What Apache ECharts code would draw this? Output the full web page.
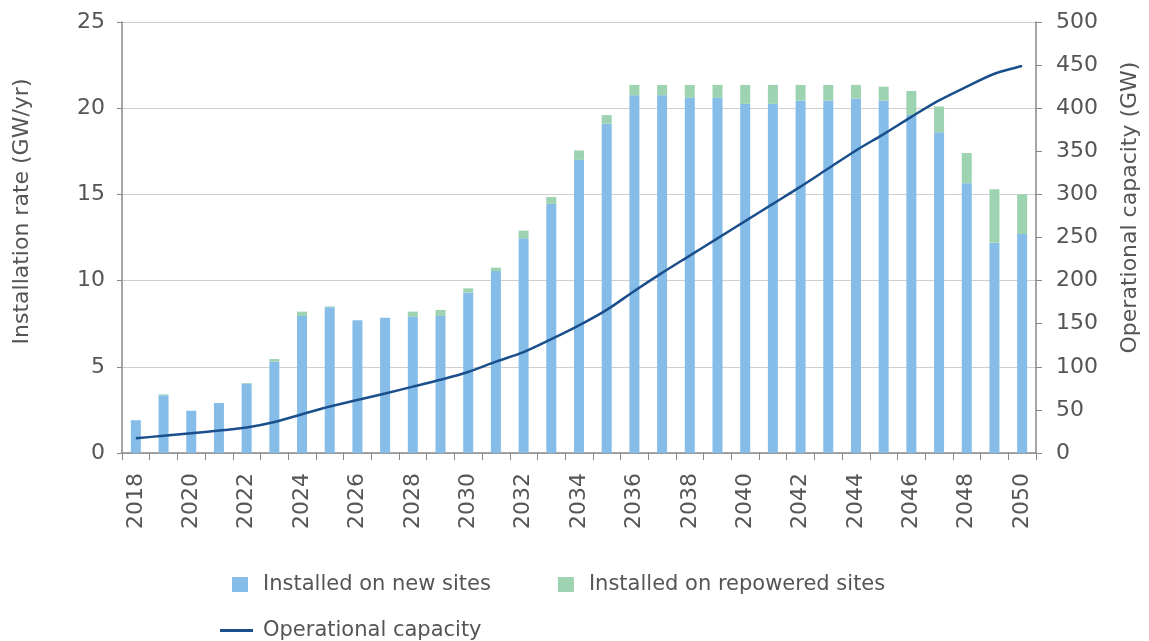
<!DOCTYPE html>
<html>
<head>
<meta charset="utf-8">
<script src="https://cdn.jsdelivr.net/npm/echarts@6/dist/echarts.min.js"></script>
<style>
html,body{margin:0;padding:0;background:#fff;}
#chart{width:1149px;height:641px;}
</style>
</head>
<body>
<div id="chart"></div>
<script>
const years = ['2018','2019','2020','2021','2022','2023','2024','2025','2026','2027','2028','2029','2030','2031','2032','2033','2034','2035','2036','2037','2038','2039','2040','2041','2042','2043','2044','2045','2046','2047','2048','2049','2050'];
const newSites = [1.9,3.35,2.45,2.9,4.0,5.3,7.95,8.45,7.7,7.85,7.9,7.95,9.3,10.55,12.45,14.45,17.0,19.1,20.75,20.75,20.6,20.6,20.25,20.25,20.45,20.45,20.55,20.45,19.6,18.6,15.65,12.2,12.7];
const repoweredSites = [0,0.05,0,0,0.05,0.15,0.25,0.05,0,0,0.3,0.35,0.25,0.2,0.45,0.4,0.55,0.5,0.6,0.6,0.75,0.75,1.1,1.1,0.9,0.9,0.8,0.8,1.4,1.5,1.75,3.1,2.3];
const operationalCapacity = [17,20,23,26,29.5,36,45,54,61.5,69,77,85,94,106,117,132,148,166,188,209,229,249,269,289,309,330,351,370,390,409,425,440,449];

const font = '"DejaVu Sans", sans-serif';
const txt = '#555';
const chart = echarts.init(document.getElementById('chart'));
chart.setOption({
  animation: false,
  textStyle: {fontFamily: font},
  grid: {left: 122, right: 111, top: 22, bottom: 188, containLabel: false},
  legend: [
    {left: 227, top: 569, itemWidth: 16, itemHeight: 15, itemGap: 67,
     textStyle: {fontSize: 21, color: txt, fontFamily: font, padding: [0, 0, 0, 10]},
     data: [{name: 'Installed on new sites', icon: 'rect'}, {name: 'Installed on repowered sites', icon: 'rect'}]},
    {left: 215, top: 615, itemWidth: 33, itemHeight: 3,
     textStyle: {fontSize: 21, color: txt, fontFamily: font, padding: [0, 0, 0, 5]},
     data: [{name: 'Operational capacity', icon: 'rect'}]}
  ],
  xAxis: {
    type: 'category', data: years, boundaryGap: true,
    axisLine: {lineStyle: {color: '#888', width: 1.5}},
    axisTick: {show: true, length: 7, lineStyle: {color: '#888'}, interval: 0},
    axisLabel: {rotate: 90, interval: 1, fontSize: 22, color: txt, margin: 20, fontFamily: font}
  },
  yAxis: [
    {type: 'value', min: 0, max: 25, interval: 5,
     name: 'Installation rate (GW/yr)', nameLocation: 'middle', nameRotate: 90, nameGap: 89,
     nameTextStyle: {fontSize: 22, color: txt, fontFamily: font, padding: [0, 0, 0, 52]},
     axisLine: {show: true, lineStyle: {color: '#888', width: 1.5}},
     axisTick: {show: true, length: 5, lineStyle: {color: '#888'}},
     axisLabel: {fontSize: 22, color: txt, margin: 17, fontFamily: font},
     splitLine: {lineStyle: {color: '#cfcfcf', width: 1.2}}},
    {type: 'value', min: 0, max: 500, interval: 50, position: 'right',
     name: 'Operational capacity (GW)', nameLocation: 'middle', nameRotate: 90, nameGap: 83,
     nameTextStyle: {fontSize: 22, color: txt, fontFamily: font, padding: [0, 0, 0, 60]},
     axisLine: {show: true, lineStyle: {color: '#888', width: 1.5}},
     axisTick: {show: true, length: 6, lineStyle: {color: '#888'}},
     axisLabel: {fontSize: 22, color: txt, margin: 20, fontFamily: font},
     splitLine: {show: false}}
  ],
  series: [
    {name: 'Installed on new sites', type: 'bar', stack: 'inst', data: newSites, barWidth: 10,
     itemStyle: {color: '#85bde8'}},
    {name: 'Installed on repowered sites', type: 'bar', stack: 'inst', data: repoweredSites, barWidth: 10,
     itemStyle: {color: '#9dd3b1'}},
    {name: 'Operational capacity', type: 'line', yAxisIndex: 1, data: operationalCapacity,
     smooth: 0.3, symbol: 'none', lineStyle: {color: '#1a4f8c', width: 2.5}, itemStyle: {color: '#1a4f8c'}}
  ]
});
</script>
</body>
</html>
